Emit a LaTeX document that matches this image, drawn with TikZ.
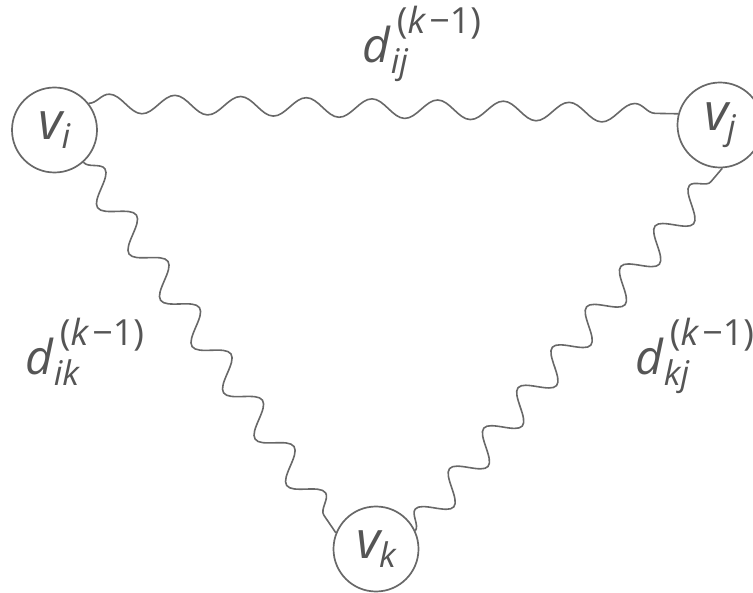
\documentclass[tikz,border=0pt]{standalone}
\usepackage{fontspec}
\setmainfont{Open Sans}
\usetikzlibrary{decorations.pathmorphing}
\definecolor{linegray}{HTML}{686868}
\definecolor{textgray}{HTML}{555555}
\newcommand\vlab[1]{{\fontsize{52}{52}\selectfont\itshape v}\kern-1pt\raisebox{-9pt}{\fontsize{34}{34}\selectfont\itshape #1}}
\newcommand\dlab[1]{{\fontsize{48}{48}\selectfont\itshape d}\kern1pt\rlap{\raisebox{-11pt}{\fontsize{34}{34}\selectfont\itshape #1}}\kern6pt\raisebox{29pt}{\fontsize{36}{36}\selectfont(\textit{k}\kern3pt−1)}}
\begin{document}
\begin{tikzpicture}[x=1pt,y=-1pt,
  vert/.style={circle,draw=linegray,line width=1.7pt,minimum size=85pt,inner sep=0pt,text=textgray},
  lbl/.style={anchor=base west,inner sep=0pt,text=textgray},
  wave/.style 2 args={draw=linegray,line width=1.6pt,decorate,decoration={snake,segment length=#1,amplitude=#2}}]
\useasboundingbox (0,0) rectangle (753,593);
\node[vert] (vi) at (54.5,130) {\vlab{i}};
\node[vert] (vj) at (720,125) {\vlab{j}};
\node[vert] (vk) at (376,549) {\vlab{k}};
\draw[wave={65.7pt}{9.5pt}] (vi.38) -- (vj.165);
\draw[wave={56pt}{14pt}] (vi.-48) -- (vk.158);
\draw[wave={53pt}{14pt}] (vk.25) -- (vj.-87);
\node[lbl] (lij) at (362,63) {\dlab{ij}};
\node[lbl] (lik) at (25,375) {\dlab{ik}};
\node[lbl] (lkj) at (635,375) {\dlab{kj}};
\end{tikzpicture}
\end{document}
